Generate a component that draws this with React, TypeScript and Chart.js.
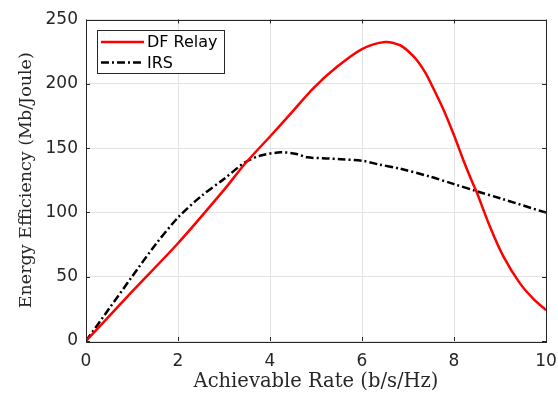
import React, { useEffect, useRef } from "react";
import { Chart, registerables } from "chart.js";

Chart.register(...registerables);

// ---- data ----
const dfRelayX = [0, 1, 2, 3, 3.46, 4, 4.43, 4.94, 5.45, 6, 6.5, 6.83, 7.0, 7.19, 7.38, 7.55, 7.77, 8, 8.2, 8.38, 8.49, 8.78, 9.07, 9.43, 9.72, 10];
const dfRelayY = [0, 38.4, 76, 117.5, 138, 159, 176, 196.5, 213, 227, 232.5, 230, 225.5, 218.5, 208.5, 196.5, 180, 160, 141, 125, 116, 89, 66, 45, 33, 24];

const irsX = [0, 0.5, 1, 1.5, 2, 2.5, 3, 3.46, 3.78, 4.23, 4.58, 4.81, 5.23, 5.54, 6, 6.35, 6.83, 7.48, 8, 8.49, 9, 10];
const irsY = [0, 25, 50, 74.5, 96, 112.5, 126, 139, 144, 146.7, 145.4, 142.8, 142, 141.3, 140.2, 137.4, 134, 127.8, 122, 116.5, 111, 99.8];

const seriesLabels = ["DF Relay", "IRS"];
const xTitle = "Achievable Rate (b/s/Hz)";
const yTitle = "Energy Efficiency (Mb/Joule)";
const xMin = 0, xMax = 10, xStep = 2;
const yMin = 0, yMax = 250, yStep = 50;

const AXIS_COLOR = "#262626";

const framePlugin = {
  id: "matlabFrame",
  afterDatasetsDraw(chart: any) {
    const { ctx, chartArea: a, scales } = chart;
    const tl = 4;
    ctx.save();
    ctx.strokeStyle = AXIS_COLOR;
    ctx.lineWidth = 1;
    // inward ticks
    ctx.beginPath();
    scales.x.ticks.forEach((t: any) => {
      const px = Math.round(scales.x.getPixelForValue(t.value)) + 0.5;
      ctx.moveTo(px, a.bottom); ctx.lineTo(px, a.bottom - tl);
      ctx.moveTo(px, a.top); ctx.lineTo(px, a.top + tl);
    });
    scales.y.ticks.forEach((t: any) => {
      const py = Math.round(scales.y.getPixelForValue(t.value)) + 0.5;
      ctx.moveTo(a.left, py); ctx.lineTo(a.left + tl, py);
      ctx.moveTo(a.right, py); ctx.lineTo(a.right - tl, py);
    });
    ctx.stroke();
    // box
    ctx.strokeRect(Math.round(a.left) + 0.5, Math.round(a.top) + 0.5, Math.round(a.right - a.left), Math.round(a.bottom - a.top));

    // legend
    const lx = 97.5, ly = 30.5, lw = 127, lh = 43;
    ctx.fillStyle = "#ffffff";
    ctx.fillRect(lx, ly, lw, lh);
    ctx.strokeStyle = AXIS_COLOR;
    ctx.lineWidth = 1;
    ctx.strokeRect(lx, ly, lw, lh);
    const rows = [42, 62.5];
    chart.data.datasets.forEach((ds: any, i: number) => {
      const y = rows[i];
      ctx.save();
      ctx.strokeStyle = ds.borderColor;
      ctx.lineWidth = ds.borderWidth;
      ctx.setLineDash(ds.borderDash || []);
      ctx.beginPath();
      ctx.moveTo(101, y);
      ctx.lineTo(144, y);
      ctx.stroke();
      ctx.restore();
      ctx.fillStyle = "#000000";
      ctx.font = "16px 'DejaVu Sans'";
      ctx.textBaseline = "middle";
      ctx.textAlign = "left";
      ctx.fillText(ds.label, 147, y + 1);
    });
    ctx.restore();
  },
};

export default function App() {
  const ref = useRef<HTMLCanvasElement | null>(null);
  useEffect(() => {
    document.body.style.margin = "0";
    const canvas = ref.current!;
    const chart = new Chart(canvas, {
      type: "line",
      data: {
        datasets: [
          {
            label: seriesLabels[0],
            data: dfRelayX.map((x, i) => ({ x, y: dfRelayY[i] })),
            borderColor: "#ff0000",
            borderWidth: 2.5,
            pointRadius: 0,
            tension: 0.3,
            fill: false,
          },
          {
            label: seriesLabels[1],
            data: irsX.map((x, i) => ({ x, y: irsY[i] })),
            borderColor: "#000000",
            borderWidth: 2.5,
            borderDash: [8, 3, 2, 3],
            pointRadius: 0,
            tension: 0.3,
            fill: false,
          },
        ],
      },
      options: {
        animation: false,
        responsive: false,
        devicePixelRatio: 1,
        layout: { padding: { top: 19.5, right: 12, left: 0, bottom: 0 } },
        plugins: { legend: { display: false }, tooltip: { enabled: false } },
        scales: {
          x: {
            type: "linear",
            min: xMin,
            max: xMax,
            afterFit: (s: any) => { s.height = 53; s.paddingLeft = 0; s.paddingRight = 0; },
            ticks: { stepSize: xStep, padding: 10, color: AXIS_COLOR, font: { family: "'DejaVu Sans'", size: 17 }, maxRotation: 0 },
            grid: { color: "#e3e3e3", drawTicks: false },
            border: { display: false },
            title: { display: true, text: xTitle, color: AXIS_COLOR, font: { family: "'DejaVu Serif'", size: 19.5 }, padding: { top: 0, bottom: 0 } },
          },
          y: {
            type: "linear",
            min: yMin,
            max: yMax,
            afterFit: (s: any) => { s.width = 86; s.paddingTop = 0; s.paddingBottom = 0; },
            ticks: { stepSize: yStep, padding: 8, color: AXIS_COLOR, font: { family: "'DejaVu Sans'", size: 17 } },
            grid: { color: "#e3e3e3", drawTicks: false },
            border: { display: false },
            title: { display: true, text: yTitle, color: AXIS_COLOR, font: { family: "'DejaVu Serif'", size: 17.5 }, padding: { top: 15.5, bottom: 0 } },
          },
        },
      },
      plugins: [framePlugin],
    });
    return () => chart.destroy();
  }, []);
  return (
    <div style={{ width: 558, height: 394, background: "#fff" }}>
      <canvas ref={ref} width={558} height={394} style={{ display: "block" }} />
    </div>
  );
}
